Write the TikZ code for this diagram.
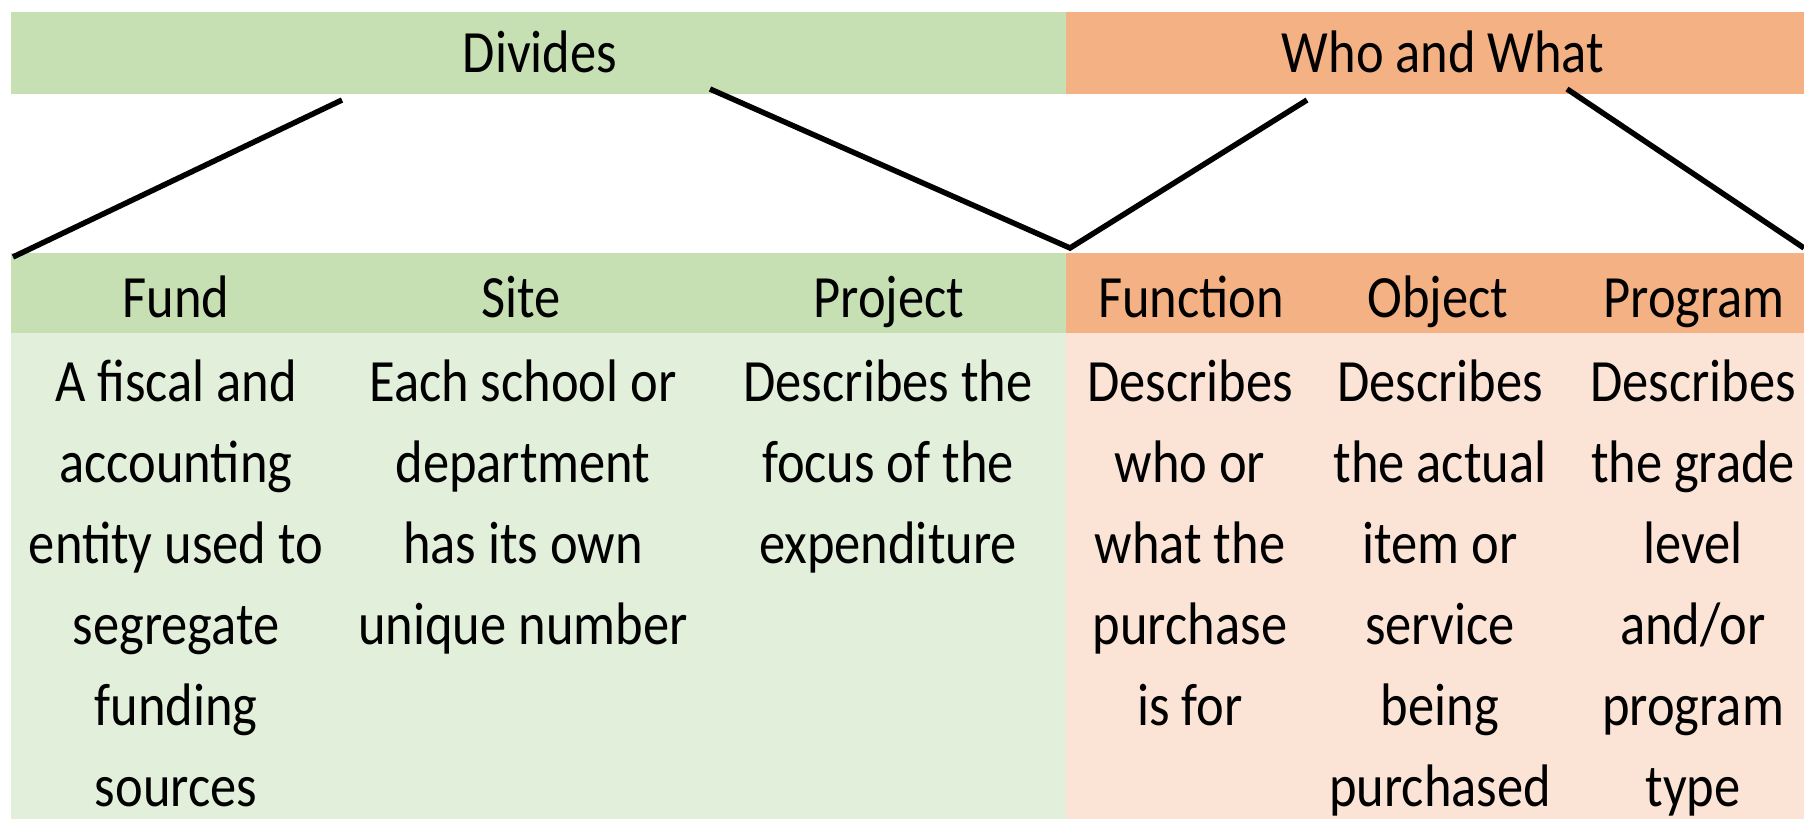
\documentclass[tikz,border=0pt]{standalone}
\usepackage{fontspec}
\setmainfont{Carlito}[FakeStretch=0.875]
\definecolor{grnhead}{HTML}{C6E0B4}
\definecolor{grnbody}{HTML}{E2EFDA}
\definecolor{orghead}{HTML}{F4B183}
\definecolor{orgbody}{HTML}{FBE4D6}
\begin{document}
\begin{tikzpicture}[x=1pt,y=-1pt,
  box/.style={inner sep=0pt, outer sep=0pt, anchor=north west},
  lbl/.style={inner sep=0pt, anchor=base, align=center, font=\fontsize{60}{81}\selectfont},
  conn/.style={line width=5.5pt, line join=miter}]
\useasboundingbox (0,0) rectangle (1804,819);
% top bar
\node[box, fill=grnhead, minimum width=1055pt, minimum height=82pt] (divbox) at (11,12) {};
\node[box, fill=orghead, minimum width=738pt, minimum height=82pt] (whobox) at (1066,12) {};
% second header row
\node[box, fill=grnhead, minimum width=1055pt, minimum height=80pt] (lefthead) at (11,253) {};
\node[box, fill=orghead, minimum width=738pt, minimum height=80pt] (righthead) at (1066,253) {};
% body
\node[box, fill=grnbody, minimum width=1055pt, minimum height=486pt] (leftbody) at (11,333) {};
\node[box, fill=orgbody, minimum width=738pt, minimum height=486pt] (rightbody) at (1066,333) {};
% titles
\node[lbl] (divides) at (540,72) {Divides};
\node[lbl] (whowhat) at (1443,72) {Who and What};
% column headers
\node[lbl] (fund) at (176,317) {Fund};
\node[lbl] (site) at (521,317) {Site};
\node[lbl] (project) at (889,317) {Project};
\node[lbl] (function) at (1191,317) {Function};
\node[lbl] (object) at (1438,317) {Object};
\node[lbl] (program) at (1694,317) {Program};
% descriptions (anchor base = baseline of the last line; first line at y=401, step 81)
\node[lbl] (funddesc) at (176,806) {A fiscal and\\accounting\\entity used to\\segregate\\funding\\sources};
\node[lbl] (sitedesc) at (523,644) {Each school or\\department\\has its own\\unique number};
\node[lbl] (projdesc) at (888,563) {Describes the\\focus of the\\expenditure};
\node[lbl] (funcdesc) at (1190,725) {Describes\\who or\\what the\\purchase\\is for};
\node[lbl] (objdesc) at (1440,806) {Describes\\the actual\\item or\\service\\being\\purchased};
\node[lbl] (progdesc) at (1693,806) {Describes\\the grade\\level\\and/or\\program\\type};
% connector ends
\coordinate (d1) at (342,100);
\coordinate (d2) at (710,89);
\coordinate (w1) at (1307,100);
\coordinate (w2) at (1567,89);
\coordinate (fundtop) at (13,257);
\coordinate (mid) at (1070,248);
\coordinate (righttop) at (1804,248);
\draw[conn] (d1) -- (fundtop);
\draw[conn] (d2) -- (mid) -- (w1);
\draw[conn] (w2) -- (righttop);
\end{tikzpicture}
\end{document}
